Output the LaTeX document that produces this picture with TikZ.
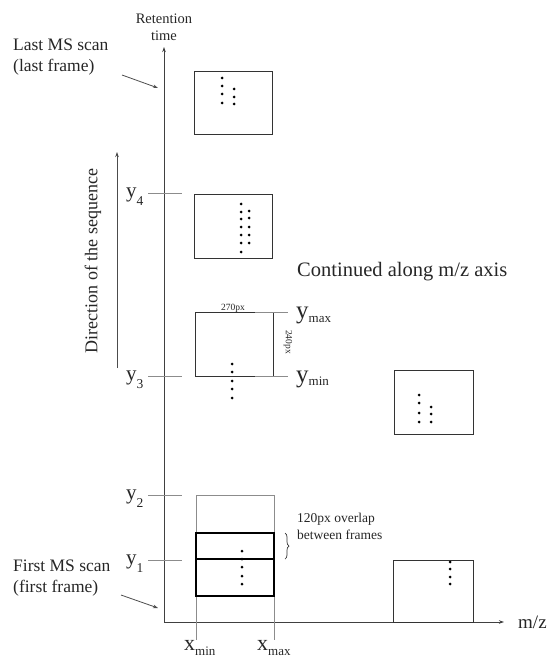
\documentclass[tikz,border=0pt]{standalone}
\usepackage{fontspec}
\setmainfont{Liberation Serif}
\usetikzlibrary{arrows.meta,decorations.pathreplacing}

% letter with a lowered subscript: size, letter, subscript size, subscript, drop
\newcommand{\sublabel}[5]{{\fontsize{#1}{#1}\selectfont #2}\raisebox{-#5pt}{\fontsize{#3}{#3}\selectfont #4}}
\newcommand{\fs}[1]{\fontsize{#1}{1.2\dimexpr#1pt\relax}\selectfont}

\begin{document}
\begin{tikzpicture}[x=1pt,y=-1pt,
  axis/.style={draw=black!75, line width=0.9pt},
  tickline/.style={draw=black!45, line width=0.8pt},
  framebox/.style={draw=black!80, line width=0.9pt, inner sep=0pt, anchor=north west},
  thickbox/.style={draw=black, line width=1.5pt},
  guide/.style={draw=black!45, line width=0.8pt},
  pointer/.style={draw=black!70, line width=0.8pt, -{Stealth[length=5pt,width=3.5pt]}},
  txt/.style={inner sep=0pt, text=black!85},
  dot/.style={fill=black}
]
\useasboundingbox (0,0) rectangle (551,660);

% axes
\coordinate (O) at (164,622);
\coordinate (ytop) at (164,47);
\coordinate (xend) at (504,622);
\draw[axis,-{Stealth[length=5pt,width=3.5pt]}] (O) -- (ytop);
\draw[axis,-{Stealth[length=5pt,width=3.5pt]}] (O) -- (xend);
\node[txt,align=center,font=\fs{14.5}] (rt) at (164,27) {Retention\\time};
\node[txt,anchor=base west,font=\fs{19}] (mz) at (518,628) {m/z};

% frames
\node[framebox,minimum width=78pt,minimum height=63pt] (flast) at (194,71) {};
\node[framebox,minimum width=78pt,minimum height=64pt] (f4) at (194,194) {};
\node[framebox,minimum width=78pt,minimum height=64pt] (f3) at (195,312) {};
\node[framebox,minimum width=79pt,minimum height=64pt] (fr) at (394,370) {};
\node[framebox,minimum width=80pt,minimum height=62pt] (fbr) at (393,560) {};

% overlapping first frames
\coordinate (g1) at (196,495);
\coordinate (g2) at (274,495);
\coordinate (g3) at (196,640);
\coordinate (g4) at (274,640);
\draw[guide] (g3) -- (g1) -- (g2) -- (g4);
\coordinate (t1) at (196,533);
\coordinate (t2) at (274,596);
\coordinate (m1) at (196,559);
\coordinate (m2) at (274,559);
\draw[thickbox] (t1) rectangle (t2);
\draw[thickbox] (m1) -- (m2);

% ticks on the retention axis
\foreach \n/\yy in {4/193,3/376,2/495,1/560}{
  \coordinate (ta\n) at (148,\yy);
  \coordinate (tb\n) at (182,\yy);
  \draw[tickline] (ta\n) -- (tb\n);
  \node[txt,anchor=base west] (yl\n) at (126,\yy+4) {\sublabel{21}{y}{13.5}{\n}{8}};
}

% y max / y min
\coordinate (ma) at (255,312);
\coordinate (mb) at (288,312);
\coordinate (na) at (255,376);
\coordinate (nb) at (288,376);
\draw[tickline] (ma) -- (mb);
\draw[tickline] (na) -- (nb);
\node[txt,anchor=base west] (ymax) at (296,318) {\sublabel{25}{y}{13}{max}{4}};
\node[txt,anchor=base west] (ymin) at (296,382) {\sublabel{25}{y}{13}{min}{3}};
\node[txt,anchor=base,font=\fs{9.5}] (w270) at (233,310) {270px};
\node[txt,rotate=-90,font=\fs{9.5}] (h240) at (288,342) {240px};

% x min / x max
\node[txt,anchor=base west] (xmin) at (184,650) {\sublabel{22}{x}{13}{min}{5}};
\node[txt,anchor=base west] (xmax) at (257,650) {\sublabel{22}{x}{13}{max}{5}};

% side labels
\node[txt,anchor=base west,align=left,font=\fs{17.5}] (lastlbl) at (13,72) {Last MS scan\\(last frame)};
\coordinate (lastfrom) at (122,75);
\coordinate (lastto) at (158,88);
\draw[pointer] (lastfrom) -- (lastto);

\node[txt,anchor=base west,align=left,font=\fs{17.5}] (firstlbl) at (13,592) {First MS scan\\(first frame)};
\coordinate (firstfrom) at (121,595);
\coordinate (firstto) at (158,608);
\draw[pointer] (firstfrom) -- (firstto);

\node[txt,rotate=90,font=\fs{18}] (dirlbl) at (93,261) {Direction of the sequence};
\coordinate (dirfrom) at (117,368);
\coordinate (dirto) at (117,152);
\draw[pointer] (dirfrom) -- (dirto);

\node[txt,anchor=base west,font=\fs{20.5}] (cont) at (297,276) {Continued along m/z axis};

% overlap brace
\coordinate (br1) at (285,533);
\coordinate (br2) at (285,559);
\draw[draw=black!80,line width=0.7pt,decorate,decoration={brace,amplitude=4pt}] (br1) -- (br2);
\node[txt,anchor=base west,align=left,font=\fs{13.5}] (ovl) at (297,539) {120px overlap\\between frames};

% peak dots
\foreach \px/\py in {222/78,222/86,222/94,222/103,234/89,234/97,234/104,
  241/204,241/212,241/219,241/227,241/235,241/243,241/252,
  249/211,249/218,249/227,249/235,249/243,
  232/364,232/372,232/381,232/389,232/398,
  419/395,419/403,419/413,419/422,431/407,431/414,431/422,
  242/551,242/559,242/567,242/576,242/584,
  450/562,450/569,450/577,450/584}
  \fill[dot] (\px,\py) circle (1.5);
\end{tikzpicture}
\end{document}
